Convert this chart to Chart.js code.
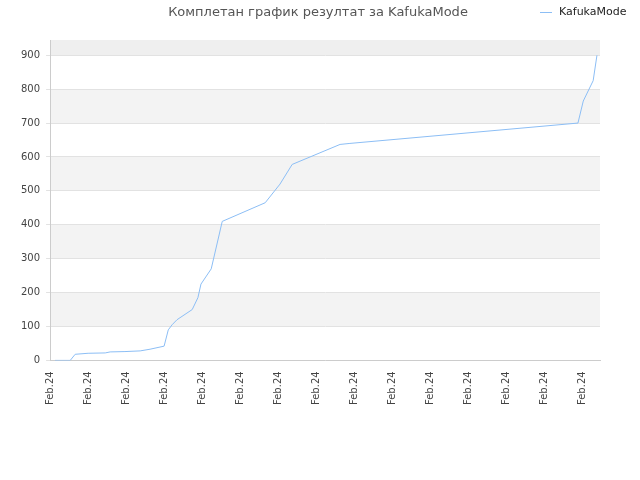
<!DOCTYPE html>
<html>
<head>
<meta charset="utf-8">
<script src="https://cdn.jsdelivr.net/npm/chart.js@4/dist/chart.umd.min.js"></script>
<style>
body { margin: 0; background: #fff; }
#wrap { width: 640px; height: 480px; }
</style>
</head>
<body>
<div id="wrap"><canvas id="c"></canvas></div>
<script>
// day index and result values
const days = [1.3, 5.3, 6.6, 10, 14.5, 15.8, 19.7, 23.7, 26.3, 30, 31.1, 32.1, 33.4, 37.4, 38.9, 39.7, 42.4, 45.3, 56.6, 60.5, 63.7, 76.3, 78.9, 138.9, 140.3, 142.9, 143.9];
const results = [0, 0, 18, 21, 22, 25, 26, 28, 33, 42, 90, 105, 120, 150, 185, 225, 270, 410, 465, 520, 578, 637, 640, 700, 765, 825, 900];
const tickLabel = 'Feb.24';
const yTicks = [0, 100, 200, 300, 400, 500, 600, 700, 800, 900];

const bands = {
    id: 'bands',
    beforeDraw(chart) {
        const { ctx, chartArea: a, scales: { y } } = chart;
        ctx.save();
        for (let v = 100; v < 945; v += 200) {
            const top = y.getPixelForValue(Math.min(v + 100, 945));
            const bot = y.getPixelForValue(v);
            ctx.fillStyle = v === 900 ? '#efefef' : '#f3f3f3';
            ctx.fillRect(a.left, top, a.right - a.left, bot - top);
        }
        ctx.fillStyle = '#555';
        ctx.font = '13px "DejaVu Sans"';
        ctx.textAlign = 'center';
        ctx.fillText('Комплетан график резултат за KafukaMode', 318, 16);
        // legend
        ctx.strokeStyle = chart.data.datasets[0].borderColor;
        ctx.lineWidth = 1;
        ctx.beginPath();
        ctx.moveTo(540, 12.5);
        ctx.lineTo(552, 12.5);
        ctx.stroke();
        ctx.fillStyle = '#222';
        ctx.font = '11px "DejaVu Sans"';
        ctx.textAlign = 'left';
        ctx.textBaseline = 'middle';
        ctx.fillText(chart.data.datasets[0].label, 559, 12.5);
        ctx.restore();
    }
};

new Chart(document.getElementById('c'), {
    type: 'line',
    data: {
        datasets: [{
            label: 'KafukaMode',
            data: days.map((d, i) => ({ x: d, y: results[i] })),
            borderColor: 'rgb(140, 190, 245)',
            backgroundColor: 'rgb(140, 190, 245)',
            borderWidth: 1,
            pointRadius: 0,
            tension: 0
        }]
    },
    options: {
        animation: false,
        responsive: true,
        maintainAspectRatio: false,
        layout: { padding: { left: 15, right: 40, top: 40, bottom: 72 } },
        plugins: {
            legend: { display: false },
            tooltip: { enabled: false }
        },
        scales: {
            x: {
                type: 'linear', min: 0, max: 144.7,
                afterBuildTicks: s => { s.ticks = s.ticks.filter(t => t.value % 10 === 0); },
                ticks: {
                    stepSize: 10, maxRotation: 90, minRotation: 90, autoSkip: false,
                    color: '#444', font: { family: 'DejaVu Sans', size: 10 },
                    callback: () => tickLabel
                },
                grid: { display: false },
                border: { color: '#ccc' }
            },
            y: {
                min: 0, max: 945,
                afterBuildTicks: s => { s.ticks = yTicks.map(v => ({ value: v })); },
                ticks: { color: '#444', font: { family: 'DejaVu Sans', size: 10 }, padding: 6 },
                grid: { color: '#e2e2e2', tickLength: 4 },
                border: { color: '#ccc' }
            }
        }
    },
    plugins: [bands]
});
</script>
</body>
</html>
